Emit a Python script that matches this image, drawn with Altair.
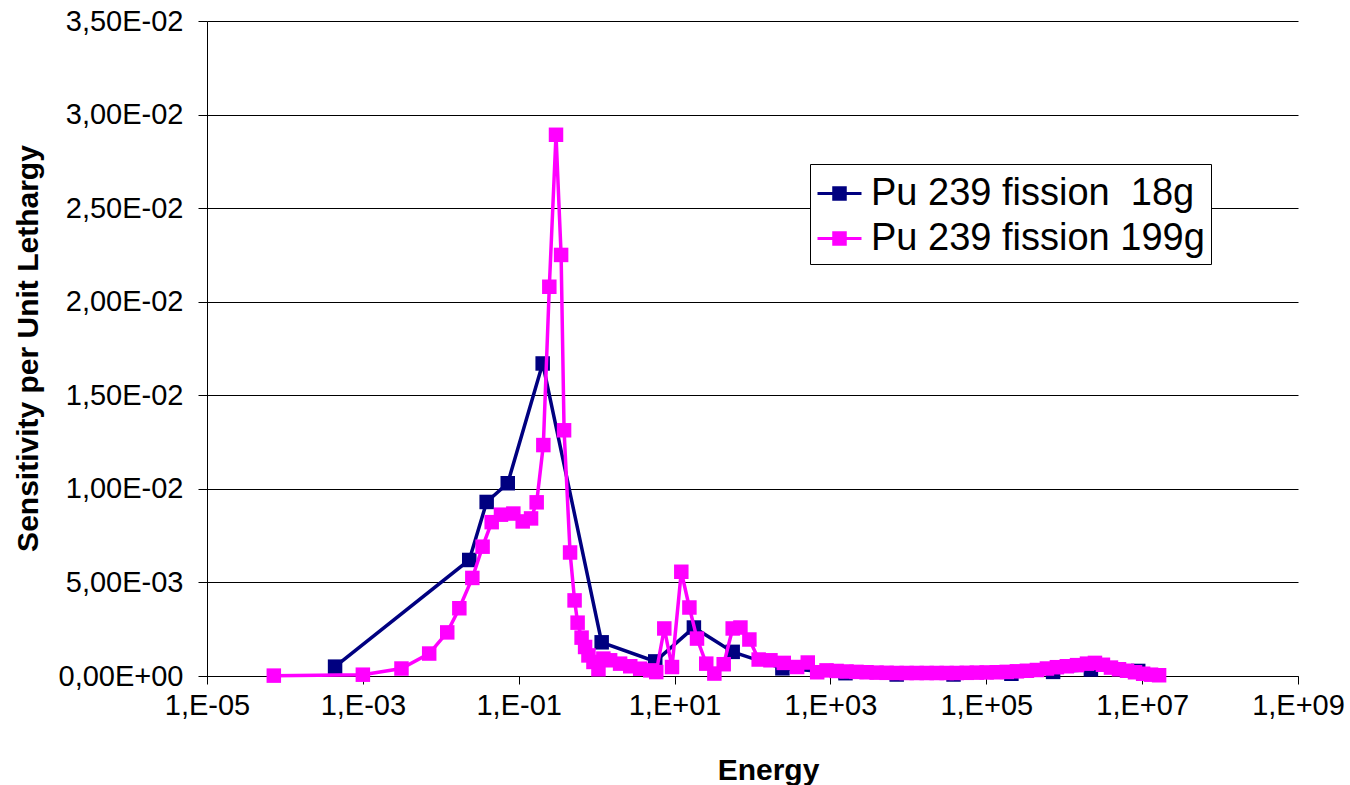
import altair as alt
import pandas as pd
import math

# ---------------- data ----------------
series_names = ["Pu 239 fission \u00a018g", "Pu 239 fission 199g"]
series_colors = ["#000080", "#FF00FF"]

energy_18g = [4.4e-4, 0.0232, 0.0388, 0.0723, 0.203, 1.16, 5.65, 17.7, 55.7, 242,
              1560, 7080, 3.8e4, 2.1e5, 7.2e5, 2.2e6, 8.9e6]
sens_18g = [5.0e-4, 6.2e-3, 9.3e-3, 1.03e-2, 1.67e-2, 1.8e-3, 7.8e-4, 2.59e-3, 1.29e-3, 4.1e-4,
            1.5e-4, 8e-5, 8e-5, 1.2e-4, 2.2e-4, 3.5e-4, 2.7e-4]

energy_199g = [7.2e-5, 1.0e-3, 3.13e-3, 7.1e-3, 0.0121, 0.0173, 0.0254, 0.0344, 0.045, 0.0592,
               0.0853, 0.1125, 0.144, 0.170, 0.207, 0.247, 0.301, 0.350, 0.382, 0.456,
               0.521, 0.570, 0.641, 0.711, 0.785, 0.910, 1.055, 1.22, 1.49, 2.0,
               2.7, 3.62, 4.87, 5.82, 7.38, 9.27, 12.2, 15.5, 19.4, 25.5,
               32.4, 42.7, 55.7, 70.0, 91.2, 120, 170, 252, 374, 512,
               676, 891, 1200, 1610, 2160, 2910, 3910, 5260, 7080, 9510,
               1.28e4, 1.72e4, 2.31e4, 3.10e4, 4.18e4, 5.61e4, 7.55e4, 1.01e5, 1.36e5, 1.83e5,
               2.47e5, 3.32e5, 4.46e5, 6.0e5, 8.05e5, 1.08e6, 1.46e6, 1.96e6, 2.48e6, 3.14e6,
               3.98e6, 5.05e6, 6.4e6, 8.1e6, 1.03e7, 1.30e7, 1.65e7]
sens_199g = [2e-5, 7e-5, 4.0e-4, 1.2e-3, 2.33e-3, 3.62e-3, 5.24e-3, 6.91e-3, 8.22e-3, 8.62e-3,
             8.68e-3, 8.26e-3, 8.42e-3, 9.28e-3, 1.234e-2, 2.08e-2, 2.892e-2, 2.25e-2, 1.313e-2, 6.6e-3,
             4.04e-3, 2.85e-3, 2.05e-3, 1.55e-3, 1.1e-3, 7.5e-4, 3.6e-4, 9.3e-4, 8.4e-4, 6.6e-4,
             5.2e-4, 3.9e-4, 3.0e-4, 2.1e-4, 2.54e-3, 4.8e-4, 5.57e-3, 3.66e-3, 2.0e-3, 6.6e-4,
             1.3e-4, 6.3e-4, 2.54e-3, 2.59e-3, 1.95e-3, 8.8e-4, 8.4e-4, 7.0e-4, 4.8e-4, 7.2e-4,
             2.0e-4, 3.0e-4, 2.7e-4, 2.4e-4, 2.2e-4, 2.0e-4, 1.8e-4, 1.7e-4, 1.6e-4, 1.6e-4,
             1.6e-4, 1.6e-4, 1.6e-4, 1.6e-4, 1.6e-4, 1.7e-4, 1.8e-4, 1.9e-4, 2.0e-4, 2.2e-4,
             2.5e-4, 2.8e-4, 3.2e-4, 4.0e-4, 4.7e-4, 5.2e-4, 5.8e-4, 6.6e-4, 7.0e-4, 6.0e-4,
             4.5e-4, 3.6e-4, 2.8e-4, 2.0e-4, 1.2e-4, 7e-5, 4e-5]

x_tick_values = [1e-5, 1e-3, 1e-1, 1e1, 1e3, 1e5, 1e7, 1e9]
x_tick_labels = ["1,E-05", "1,E-03", "1,E-01", "1,E+01", "1,E+03", "1,E+05", "1,E+07", "1,E+09"]
y_tick_values = [0, 0.005, 0.010, 0.015, 0.020, 0.025, 0.030, 0.035]
y_tick_labels = ["0,00E+00", "5,00E-03", "1,00E-02", "1,50E-02", "2,00E-02", "2,50E-02",
                 "3,00E-02", "3,50E-02"]

x_title = "Energy"
y_title = "Sensitivity per Unit Lethargy"

# ---------------- table ----------------
df = pd.concat([
    pd.DataFrame({"series": series_names[0], "energy": energy_18g, "sens": sens_18g}),
    pd.DataFrame({"series": series_names[1], "energy": energy_199g, "sens": sens_199g}),
], ignore_index=True)


def chain(key_expr, keys, labels):
    expr = "''"
    for k, l in reversed(list(zip(keys, labels))):
        expr = f"({key_expr} == {k} ? '{l}' : {expr})"
    return expr


x_label_expr = chain("round(log(datum.value)/LN10)",
                     [round(math.log10(v)) for v in x_tick_values], x_tick_labels)
y_label_expr = chain("round(datum.value*10000)",
                     [round(v * 10000) for v in y_tick_values], y_tick_labels)

FONT = "Liberation Sans"

x_enc = alt.X("energy:Q",
              scale=alt.Scale(type="log", domain=[x_tick_values[0], x_tick_values[-1]], nice=False),
              axis=alt.Axis(values=x_tick_values, labelExpr=x_label_expr, grid=False,
                            title=x_title, tickSize=8, labelPadding=7,
                            titleX=561, titleY=94, titleBaseline="middle",
                            labelFlush=False, labelOverlap=False))
y_enc = alt.Y("sens:Q",
              scale=alt.Scale(domain=[y_tick_values[0], y_tick_values[-1]], nice=False),
              axis=alt.Axis(values=y_tick_values, labelExpr=y_label_expr, grid=True,
                            title=y_title, tickSize=9, labelPadding=15,
                            titleX=-179, titleY=327, titleAlign="center",
                            titleBaseline="middle", titleAngle=270))

legend_path = ("M-1,0L1,0"
               "M-0.33,-0.26L0.33,-0.26M-0.33,-0.13L0.33,-0.13M-0.33,0L0.33,0"
               "M-0.33,0.13L0.33,0.13M-0.33,0.26L0.33,0.26")

color_enc = alt.Color("series:N",
                      scale=alt.Scale(domain=series_names, range=series_colors),
                      legend=alt.Legend(orient="none", legendX=603, legendY=143, title=None,
                                        symbolType=legend_path, symbolSize=1936,
                                        symbolStrokeWidth=3, labelFontSize=38,
                                        labelFont=FONT, labelColor="black", labelLimit=0,
                                        labelOffset=8, padding=6, rowPadding=2,
                                        strokeColor="black", fillColor="white"))

base = alt.Chart(df).encode(x=x_enc, y=y_enc)

layers = []
for name, col in zip(series_names, series_colors):
    sub = base.transform_filter(alt.datum.series == name)
    layers.append(sub.mark_line(strokeWidth=3.5).encode(color=color_enc))
    layers.append(sub.mark_square(size=210, opacity=1, color=col))

chart = alt.layer(*layers).properties(
    width=1091, height=655,
    padding={"left": 207, "top": 21, "right": 52, "bottom": 109},
    autosize="none",
).configure_view(stroke=None).configure_axis(
    labelFont=FONT, labelFontSize=29, labelColor="black",
    titleFont=FONT, titleFontSize=30, titleFontWeight="bold", titleColor="black",
    domainColor="black", domainWidth=1, tickColor="black", tickWidth=1,
    gridColor="black", gridWidth=1, gridOpacity=1,
)

chart.save("out.html", embed_options={"renderer": "svg", "actions": False})
